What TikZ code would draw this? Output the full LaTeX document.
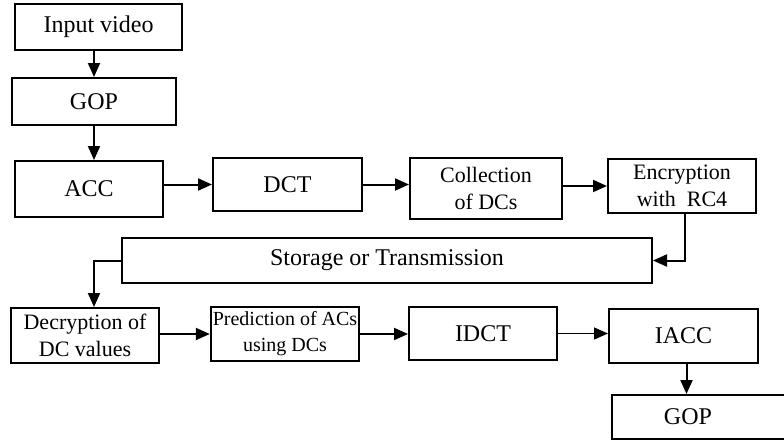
\documentclass[tikz,border=0pt]{standalone}
\usepackage{fontspec}
\setmainfont{Liberation Serif}
\usetikzlibrary{arrows.meta}

\begin{document}
\begin{tikzpicture}[
    x=0.5pt, y=-0.5pt,
    block/.style={rectangle, draw, line width=1pt, inner sep=1pt,
        align=center, font=\fontsize{12}{13.5}\selectfont},
    small/.style={font=\fontsize{11}{13.5}\selectfont},
    tiny/.style={font=\fontsize{10}{13}\selectfont},
    arrow/.style={-{Triangle[length=7pt,width=6pt]}, line width=1pt},
    thinarrow/.style={-{Triangle[length=7pt,width=6pt]}, line width=0.6pt}
]
\useasboundingbox (0,0) rectangle (784,440);

% encoder side
\node[block, minimum width=83.5pt, minimum height=23pt] (input) at (98.5,27) {Input video};
\node[block, minimum width=82pt, minimum height=23.5pt] (gop) at (94,101.5) {GOP};
\node[block, minimum width=74pt, minimum height=28pt] (acc) at (89,189) {ACC};
\node[block, minimum width=74.5pt, minimum height=26.5pt] (dct) at (287.5,184.5) {DCT};
\node[block, small, minimum width=76pt, minimum height=30.5pt] (coll) at (486,188.5) {Collection\\of DCs};
\node[block, small, minimum width=74pt, minimum height=27pt] (enc) at (682,186) {Encryption\\with~ RC4};

% channel
\node[block, minimum width=265pt, minimum height=22.5pt] (store) at (387,260.5) {Storage or Transmission};

% decoder side
\node[block, small, minimum width=74pt, minimum height=27.5pt] (decr) at (85,335.5) {Decryption of\\DC values};
\node[block, tiny, minimum width=74pt, minimum height=27pt] (pred) at (285,334) {Prediction of ACs\\using DCs};
\node[block, minimum width=74pt, minimum height=26.5pt] (idct) at (483,333.5) {IDCT};
\node[block, minimum width=74.5pt, minimum height=27pt] (iacc) at (683.5,336) {IACC};
\node[block, minimum width=89pt, minimum height=22pt,
      label={[xshift=-6.5pt, font=\fontsize{12}{13.5}\selectfont]center:GOP}] (gop2) at (701,417) {};

\draw[arrow] (input.south -| gop) -- (gop.north);
\draw[arrow] (gop.south) -- (gop.south |- acc.north);
\draw[arrow] (acc.east |- dct) -- (dct.west);
\draw[arrow] (dct.east) -- (dct.east -| coll.west);
\draw[arrow] (coll.east |- enc) -- (enc.west);
\draw[arrow] ([xshift=1.5pt]enc.south) |- (store.east);
\draw[arrow] (store.west) -| ([xshift=4.5pt]decr.north);
\draw[arrow] (decr.east |- pred) -- (pred.west);
\draw[arrow] (pred.east) -- (pred.east -| idct.west);
\draw[thinarrow] (idct.east) -- (idct.east -| iacc.west);
\draw[arrow] ([xshift=1.5pt]iacc.south) -- ([xshift=1.5pt]iacc.south |- gop2.north);

\end{tikzpicture}
\end{document}
